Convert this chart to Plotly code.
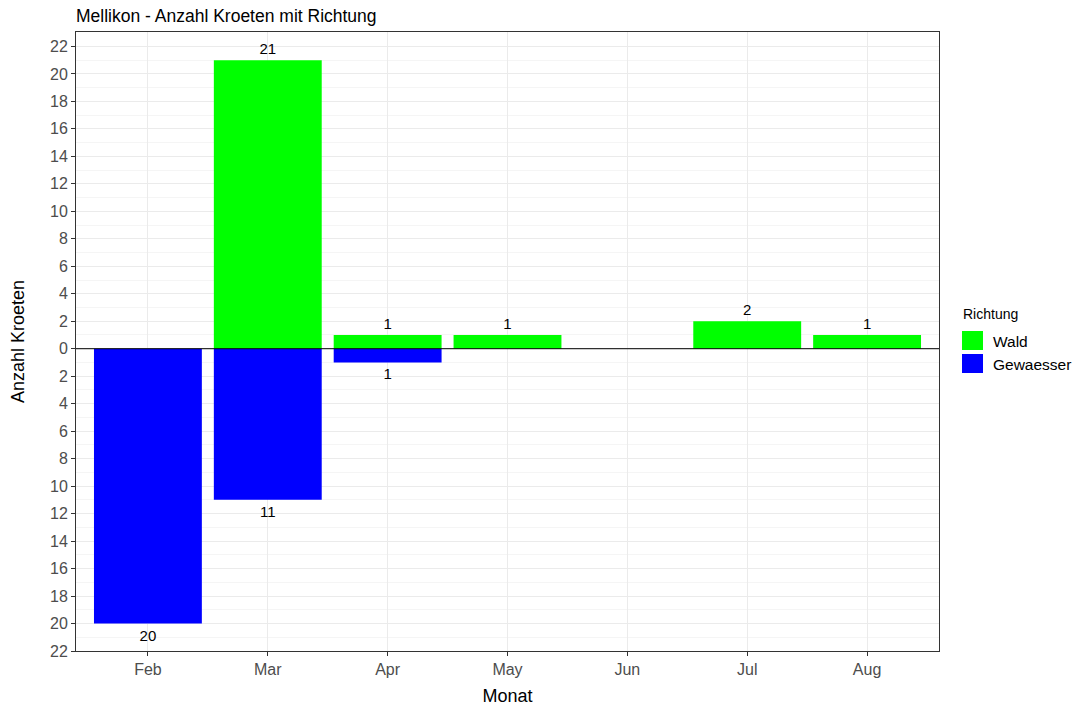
import plotly.graph_objects as go

# Monthly toad counts by direction of migration
months = ["Feb", "Mar", "Apr", "May", "Jun", "Jul", "Aug"]
wald = [0, 21, 1, 1, 0, 2, 1]
gewaesser = [20, 11, 1, 0, 0, 0, 0]

green = "#00FF00"
blue = "#0000FF"
font = "Liberation Sans, Arial, sans-serif"

fig = go.Figure()

# Wald drawn upward, Gewaesser downward from the zero line
fig.add_trace(go.Bar(
    x=months, y=[v if v else None for v in wald],
    marker=dict(color=green, line=dict(width=0)), width=0.9,
    text=[str(v) if v else "" for v in wald], textposition="outside",
    textfont=dict(size=15, color="black", family=font),
    cliponaxis=False, name="Wald", showlegend=False,
))
fig.add_trace(go.Bar(
    x=months, y=[-v if v else None for v in gewaesser],
    marker=dict(color=blue, line=dict(width=0)), width=0.9,
    text=[str(v) if v else "" for v in gewaesser], textposition="outside",
    textfont=dict(size=15, color="black", family=font),
    cliponaxis=False, name="Gewaesser", showlegend=False,
))

ticks = list(range(-22, 23, 2))
fig.update_layout(
    width=1079, height=706,
    margin=dict(l=76, r=140, t=32, b=55, autoexpand=False),
    paper_bgcolor="white", plot_bgcolor="white",
    barmode="overlay",
    font=dict(family=font, color="#4d4d4d"),
    title=dict(text="Mellikon - Anzahl Kroeten mit Richtung", x=76 / 1079, xanchor="left",
               y=1 - 16 / 706, yanchor="middle",
               font=dict(size=17.5, color="black", family=font)),
    xaxis=dict(
        categoryorder="array", categoryarray=months, range=[-0.6, 6.6],
        showgrid=True, gridcolor="#ebebeb", gridwidth=1,
        ticks="outside", ticklen=4, tickcolor="#333333",
        tickfont=dict(size=16, color="#4d4d4d"),
        showline=True, linecolor="#333333", linewidth=1, mirror=True,
        title=dict(text="Monat", font=dict(size=18, color="black"), standoff=12),
        zeroline=False, automargin=False,
    ),
    yaxis=dict(
        range=[-22, 23.05], tickvals=ticks, ticktext=[str(abs(t)) for t in ticks],
        showgrid=True, gridcolor="#ebebeb", gridwidth=1,
        minor=dict(dtick=1, tick0=-23, showgrid=True, gridcolor="#f5f5f5", gridwidth=1, ticks=""),
        ticks="outside", ticklen=4, tickcolor="#333333",
        tickfont=dict(size=16, color="#4d4d4d"),
        showline=True, linecolor="#333333", linewidth=1, mirror=True,
        title=dict(text="Anzahl Kroeten", font=dict(size=18, color="black"), standoff=20),
        zeroline=False, automargin=False,
    ),
)

# zero reference line
fig.add_hline(y=0, line=dict(color="black", width=1))

# legend with large square keys, placed in pixel terms relative to the panel
px_w, px_h = 1079 - 76 - 140, 706 - 32 - 55
def to_px_x(px):
    return (px - 76) / px_w
def to_px_y(py):
    return (651 - py) / px_h

fig.add_annotation(text="Richtung", xref="paper", yref="paper",
                   x=to_px_x(961), y=to_px_y(314), xanchor="left", yanchor="middle",
                   showarrow=False, font=dict(size=14, color="black", family=font))
legend_items = [("Wald", green, 331), ("Gewaesser", blue, 354)]
for label, col, top in legend_items:
    fig.add_shape(type="rect", xref="paper", yref="paper",
                  x0=to_px_x(962), x1=to_px_x(983), y0=to_px_y(top), y1=to_px_y(top + 19),
                  fillcolor=col, line=dict(width=0))
    fig.add_annotation(text=label, xref="paper", yref="paper",
                       x=to_px_x(991), y=to_px_y(top + 10), xanchor="left", yanchor="middle",
                       showarrow=False, font=dict(size=15.5, color="black", family=font))

fig.write_html("out.html")
